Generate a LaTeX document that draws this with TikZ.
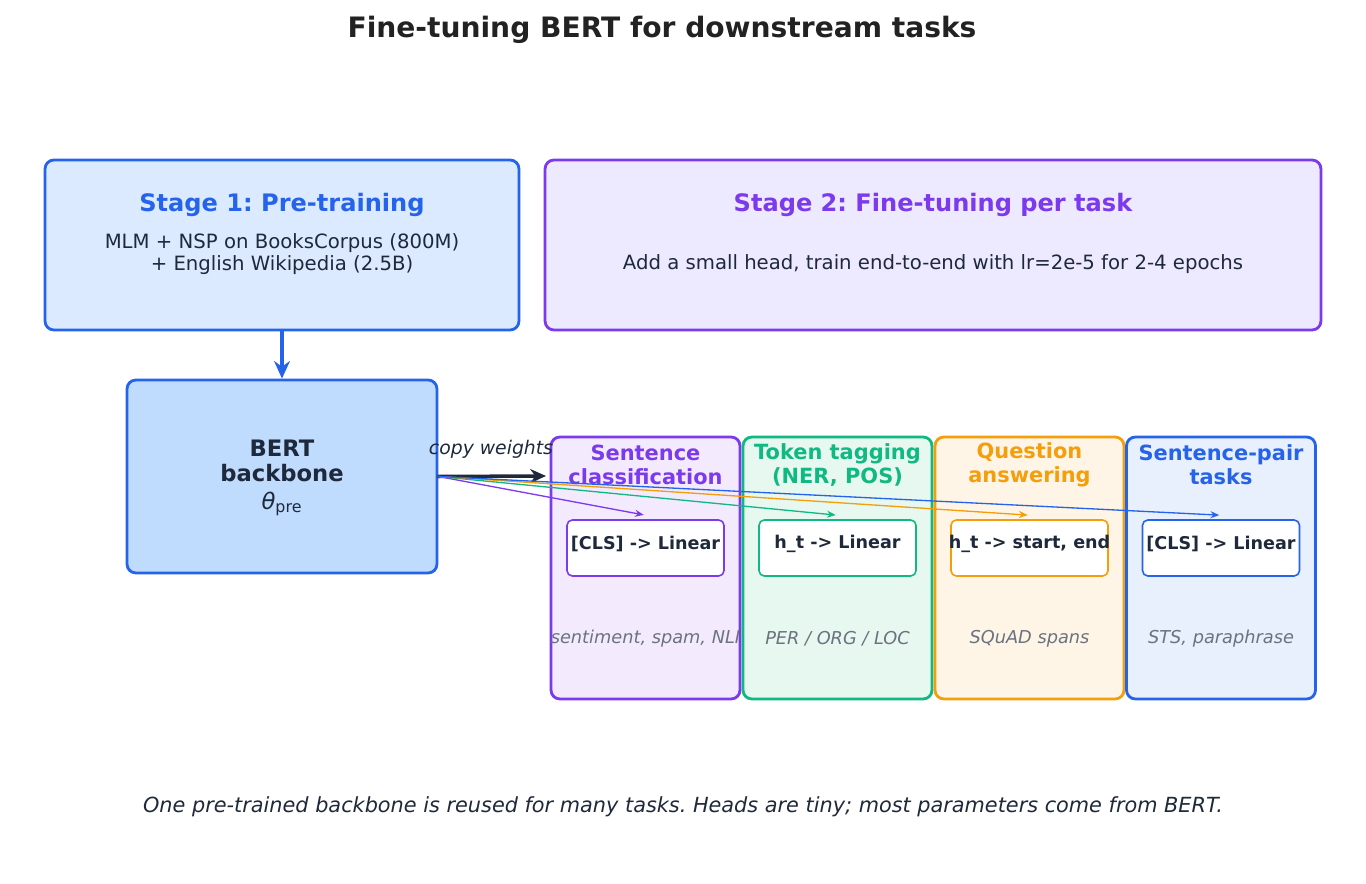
\documentclass[tikz,border=0pt]{standalone}
\usepackage{fontspec}
\setmainfont{DejaVu Sans}
\usetikzlibrary{arrows.meta}
\frenchspacing
\definecolor{ink}{HTML}{1E293B}
\definecolor{titleink}{HTML}{222222}
\definecolor{muted}{HTML}{6B7280}
\definecolor{bluec}{HTML}{2563EB}
\definecolor{purplec}{HTML}{7C3AED}
\definecolor{greenc}{HTML}{10B981}
\definecolor{orangec}{HTML}{F59E0B}
\definecolor{stageonefill}{HTML}{DBEAFE}
\definecolor{stagetwofill}{HTML}{EDE9FE}
\definecolor{bertfill}{HTML}{BFDBFE}
\definecolor{purplecfill}{HTML}{F3EBFD}
\definecolor{greencfill}{HTML}{E7F8F1}
\definecolor{orangecfill}{HTML}{FEF5E6}
\definecolor{bluecfill}{HTML}{E9F0FD}
\newcommand{\fs}[1]{\fontsize{#1}{1.13\dimexpr#1pt\relax}\selectfont}
\tikzset{
  stagebox/.style={draw, rounded corners=5pt, line width=1.6pt, minimum width=9.48cm, minimum height=3.4cm, inner sep=0pt},
  taskbox/.style={draw=#1, fill=#1fill, rounded corners=5pt, line width=1.6pt, minimum width=3.78cm, minimum height=5.24cm, inner sep=0pt},
  headbox/.style={draw=#1, fill=white, rounded corners=3pt, line width=0.9pt, minimum width=3.14cm, minimum height=1.12cm, inner sep=0pt},
  tasktitle/.style={text=#1, font=\fs{11.9}\bfseries, align=center},
  headtext/.style={text=ink, font=\fs{10}\bfseries},
  exampletext/.style={text=muted, font=\fs{10.1}\itshape},
  copyarrow/.style={draw=#1, line width=0.75pt, -{Stealth[length=5pt,width=4pt]}, shorten >=1pt},
}
\begin{document}
\begin{tikzpicture}[x=0.02cm, y=-0.02cm, line join=round, line cap=round]
\useasboundingbox (0,0) rectangle (1366,884);
\node[text=titleink, font=\fs{16}\bfseries] (title) at (662,30) {Fine-tuning BERT for downstream tasks};

% stages
\node[stagebox, draw=bluec, fill=stageonefill] (stage1) at (282,245) {};
\node[text=bluec, font=\fs{13.7}\bfseries] (stage1t) at (282,205) {Stage 1: Pre-training};
\node[text=ink, font=\fs{11.2}, align=center] (stage1b) at (282,254) {MLM + NSP on BooksCorpus (800M)\\+ English Wikipedia (2.5B)};
\node[stagebox, draw=purplec, fill=stagetwofill, minimum width=15.52cm] (stage2) at (933,245) {};
\node[text=purplec, font=\fs{13.7}\bfseries] (stage2t) at (933,205) {Stage 2: Fine-tuning per task};
\node[text=ink, font=\fs{11.2}] (stage2b) at (933,264) {Add a small head, train end-to-end with lr=2e-5 for 2-4 epochs};

% backbone
\node[draw=bluec, fill=bertfill, rounded corners=5pt, line width=1.6pt, minimum width=6.2cm, minimum height=3.86cm] (bert) at (282,476.5) {};
\node[text=ink, font=\fs{12.9}\bfseries, align=center] (bertt) at (282,461) {BERT\\backbone};
\node[text=ink, font=\fs{12.9}] (theta) at (282,504) {{\itshape θ}\textsubscript{pre}};
\draw[bluec, line width=2pt, -{Stealth[length=10pt,width=9pt]}] (stage1.south) -- (bert.north);

% tasks
\node[taskbox=purplec] (task1) at (645.5,568) {};
\node[taskbox=greenc] (task2) at (837.5,568) {};
\node[taskbox=orangec] (task3) at (1029.5,568) {};
\node[taskbox=bluec] (task4) at (1221,568) {};
\node[tasktitle=purplec] (task1t) at (645.5,465) {Sentence\\classification};
\node[tasktitle=greenc] (task2t) at (837.5,465) {Token tagging\\(NER, POS)};
\node[tasktitle=orangec] (task3t) at (1029.5,465) {Question\\answering};
\node[tasktitle=bluec] (task4t) at (1221,465) {Sentence-pair\\tasks};
\node[headbox=purplec] (head1) at (645.5,548) {};
\node[headbox=greenc] (head2) at (837.5,548) {};
\node[headbox=orangec] (head3) at (1029.5,548) {};
\node[headbox=bluec] (head4) at (1221,548) {};
\node[headtext] at (645.5,544) {[CLS] -> Linear};
\node[headtext] at (837.5,544) {h\_t -> Linear};
\node[headtext] at (1029.5,544) {h\_t -> start, end};
\node[headtext] at (1221,544) {[CLS] -> Linear};
\node[exampletext] at (645.5,639) {sentiment, spam, NLI};
\node[exampletext] at (837.5,639) {PER / ORG / LOC};
\node[exampletext] at (1029.5,639) {SQuAD spans};
\node[exampletext] at (1221,639) {STS, paraphrase};

% copy weights
\node[text=ink, font=\fs{10.7}\itshape] (copyl) at (491,449) {copy weights};
\coordinate (copyend) at (546,476);
\draw[ink, line width=2pt, -{Stealth[length=9pt,width=8pt]}] (bert.east) -- (copyend);
\draw[copyarrow=purplec] (bert.east) -- ([yshift=0.08cm]head1.north);
\draw[copyarrow=greenc] (bert.east) -- ([yshift=0.08cm]head2.north);
\draw[copyarrow=orangec] (bert.east) -- ([yshift=0.08cm]head3.north);
\draw[copyarrow=bluec] (bert.east) -- ([yshift=0.08cm]head4.north);

\node[text=ink, font=\fs{11.85}\itshape] (footer) at (683,807) {One pre-trained backbone is reused for many tasks. Heads are tiny; most parameters come from BERT.};
\end{tikzpicture}
\end{document}
